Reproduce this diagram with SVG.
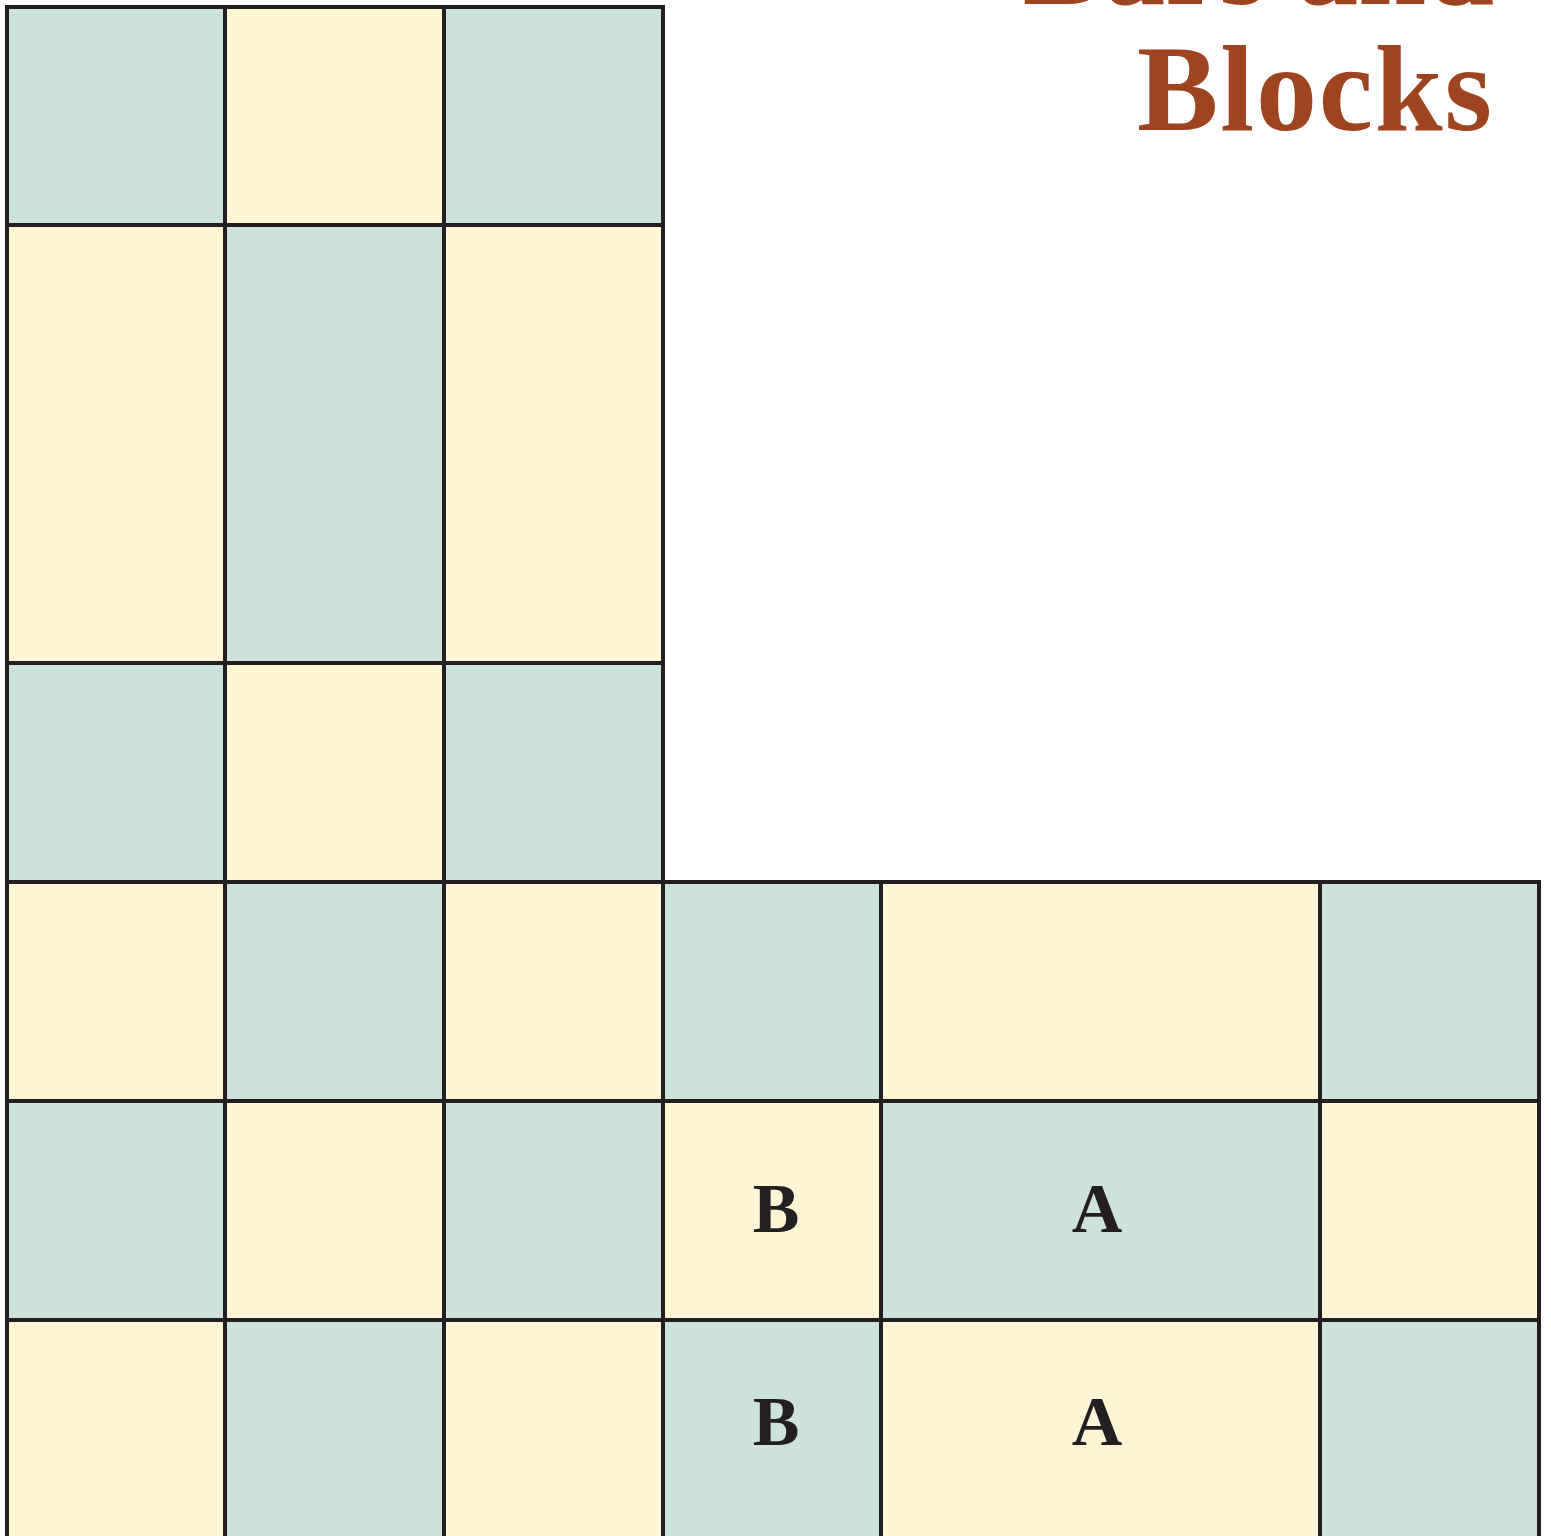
<svg xmlns="http://www.w3.org/2000/svg" width="1551" height="1536" viewBox="0 0 1551 1536">
<style>
.t{fill:#CCE2DD}
.y{fill:#FEF5D4}
.c{stroke:#231F20;stroke-width:4}
.lbl{font-family:"Liberation Serif",serif;font-weight:bold;font-size:70px;fill:#231F20;text-anchor:middle}
.title{font-family:"Liberation Serif",serif;font-weight:bold;font-size:122px;fill:#9E4420;text-anchor:end}
</style>
<rect width="1551" height="1536" fill="#FFFFFF"/>
<g id="title">
<text class="title" x="1494" y="4">Bars and</text>
<text class="title" x="1492" y="130" textLength="355" lengthAdjust="spacing">Blocks</text>
</g>
<g id="left-bars">
<rect class="t c" x="7" y="7" width="218" height="218"/>
<rect class="y c" x="225" y="7" width="219" height="218"/>
<rect class="t c" x="444" y="7" width="219" height="218"/>
<rect class="y c" x="7" y="225" width="218" height="438"/>
<rect class="t c" x="225" y="225" width="219" height="438"/>
<rect class="y c" x="444" y="225" width="219" height="438"/>
<rect class="t c" x="7" y="663" width="218" height="219"/>
<rect class="y c" x="225" y="663" width="219" height="219"/>
<rect class="t c" x="444" y="663" width="219" height="219"/>
<rect class="y c" x="7" y="882" width="218" height="219"/>
<rect class="t c" x="225" y="882" width="219" height="219"/>
<rect class="y c" x="444" y="882" width="219" height="219"/>
<rect class="t c" x="7" y="1101" width="218" height="219"/>
<rect class="y c" x="225" y="1101" width="219" height="219"/>
<rect class="t c" x="444" y="1101" width="219" height="219"/>
<rect class="y c" x="7" y="1320" width="218" height="240"/>
<rect class="t c" x="225" y="1320" width="219" height="240"/>
<rect class="y c" x="444" y="1320" width="219" height="240"/>
</g>
<g id="right-blocks">
<rect class="t c" x="663" y="882" width="218" height="219"/>
<rect class="y c" x="881" y="882" width="439" height="219"/>
<rect class="t c" x="1320" y="882" width="219" height="219"/>
<rect class="y c" x="663" y="1101" width="218" height="219"/>
<rect class="t c" x="881" y="1101" width="439" height="219"/>
<rect class="y c" x="1320" y="1101" width="219" height="219"/>
<rect class="t c" x="663" y="1320" width="218" height="240"/>
<rect class="y c" x="881" y="1320" width="439" height="240"/>
<rect class="t c" x="1320" y="1320" width="219" height="240"/>
</g>
<g id="labels">
<text class="lbl" x="776" y="1232">B</text>
<text class="lbl" x="1097" y="1232">A</text>
<text class="lbl" x="776" y="1445">B</text>
<text class="lbl" x="1097" y="1445">A</text>
</g>
</svg>
